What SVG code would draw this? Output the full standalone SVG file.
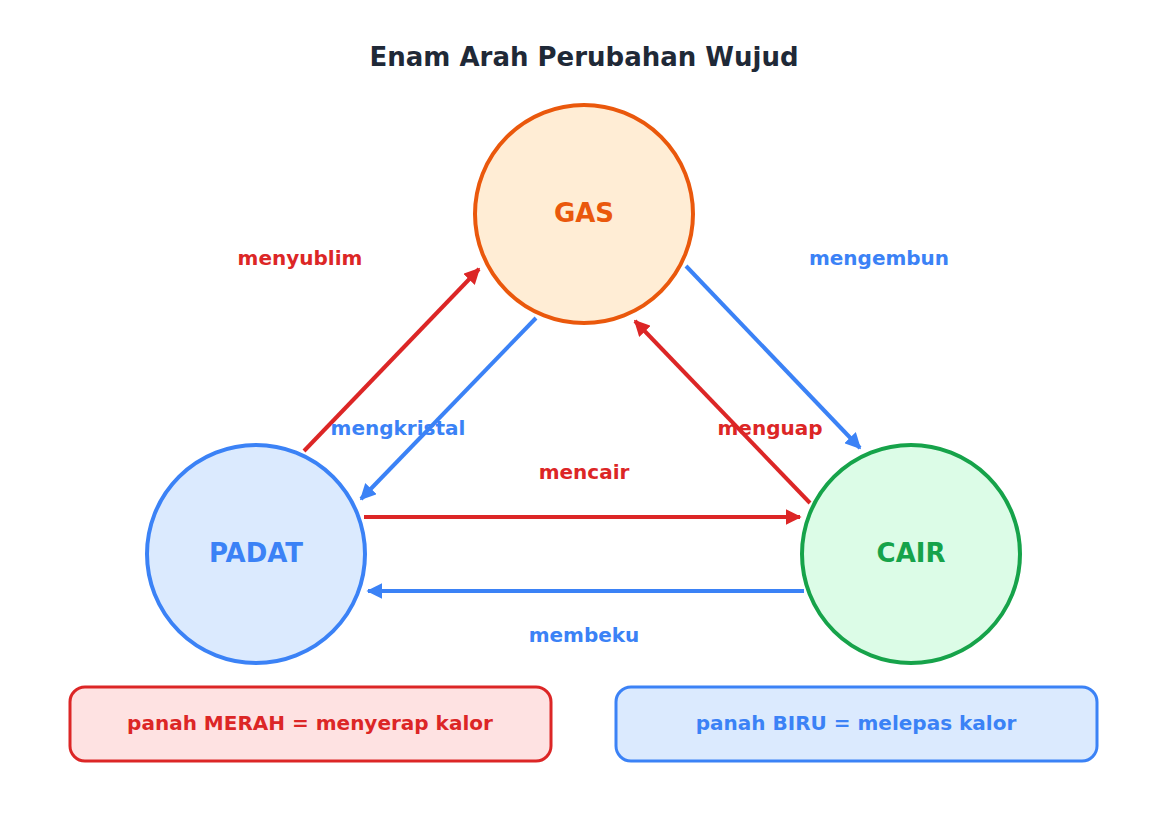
<svg xmlns="http://www.w3.org/2000/svg" width="1167" height="814" viewBox="0 0 1167 814">
<style>
text{font-family:"DejaVu Sans",sans-serif;font-weight:bold;text-anchor:middle}
.r{stroke:#dc2626;stroke-width:4;fill:none;marker-end:url(#ar)}
.b{stroke:#3b82f6;stroke-width:4;fill:none;marker-end:url(#ab)}
.lr{fill:#dc2626;font-size:20px}
.lb{fill:#3b82f6;font-size:20px}
</style>
<defs>
<marker id="ar" viewBox="0 0 10 10" refX="9" refY="5" markerWidth="4" markerHeight="4" orient="auto"><path d="M0,0L10,5L0,10z" fill="#dc2626"/></marker>
<marker id="ab" viewBox="0 0 10 10" refX="9" refY="5" markerWidth="4" markerHeight="4" orient="auto"><path d="M0,0L10,5L0,10z" fill="#3b82f6"/></marker>
</defs>
<rect width="1167" height="814" fill="#fff"/>
<text x="584" y="66" font-size="26" fill="#1f2937">Enam Arah Perubahan Wujud</text>
<g id="connectors">
<line class="r" x1="304" y1="451" x2="479" y2="269"/>
<line class="b" x1="536" y1="318" x2="361" y2="499"/>
<line class="b" x1="686" y1="266" x2="860" y2="448"/>
<line class="r" x1="810" y1="503" x2="635" y2="321"/>
<line class="r" x1="364" y1="517" x2="800" y2="517"/>
<line class="b" x1="804" y1="591" x2="368" y2="591"/>
<text class="lr" x="300" y="265">menyublim</text>
<text class="lb" x="398" y="435">mengkristal</text>
<text class="lb" x="879" y="265">mengembun</text>
<text class="lr" x="770" y="435">menguap</text>
<text class="lr" x="584" y="479">mencair</text>
<text class="lb" x="584" y="642">membeku</text>
</g>
<g id="gas"><circle cx="584" cy="214" r="109" fill="#ffedd5" stroke="#ea580c" stroke-width="4"/><text x="584" y="222" font-size="26" fill="#ea580c">GAS</text></g>
<g id="padat"><circle cx="256" cy="554" r="109" fill="#dbeafe" stroke="#3b82f6" stroke-width="4"/><text x="256" y="562" font-size="26" fill="#3b82f6">PADAT</text></g>
<g id="cair"><circle cx="911" cy="554" r="109" fill="#dcfce7" stroke="#16a34a" stroke-width="4"/><text x="911" y="562" font-size="26" fill="#16a34a">CAIR</text></g>
<g id="legend-red"><rect x="70" y="687" width="481" height="74" rx="15" fill="#fee2e2" stroke="#dc2626" stroke-width="3"/><text class="lr" x="310" y="730">panah MERAH = menyerap kalor</text></g>
<g id="legend-blue"><rect x="616" y="687" width="481" height="74" rx="15" fill="#dbeafe" stroke="#3b82f6" stroke-width="3"/><text class="lb" x="856" y="730">panah BIRU = melepas kalor</text></g>
</svg>
